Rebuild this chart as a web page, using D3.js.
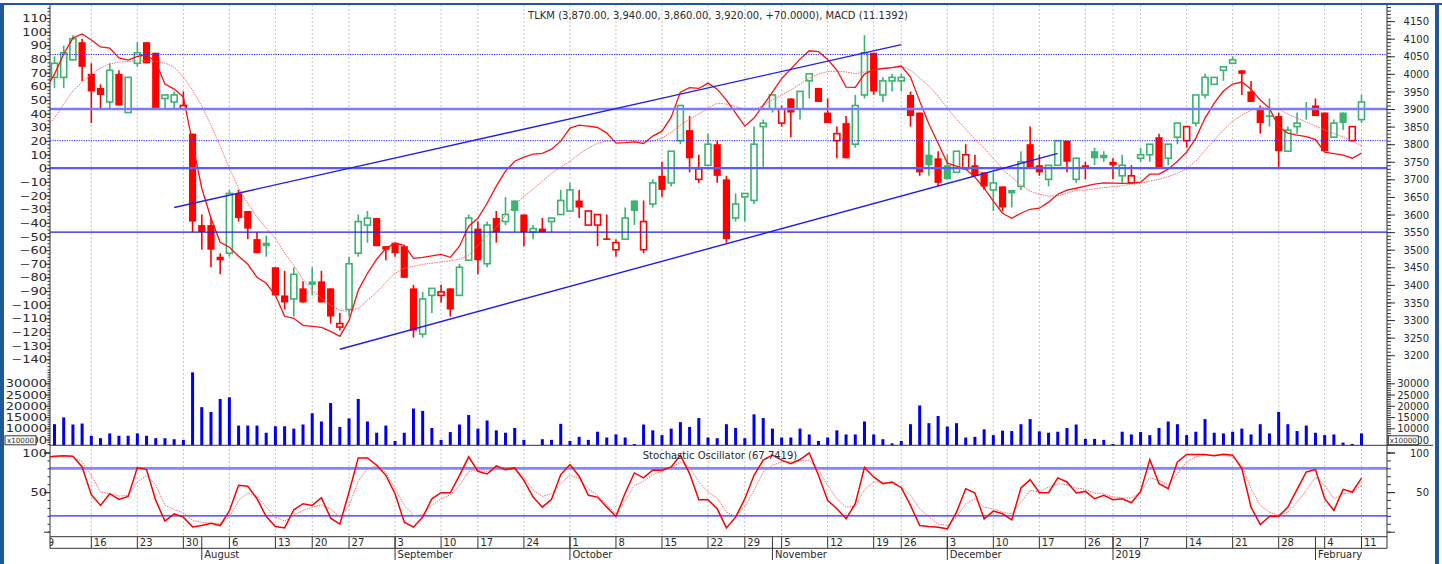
<!DOCTYPE html>
<html><head><meta charset="utf-8">
<script src="https://cdn.jsdelivr.net/npm/d3@7"></script>
<style>
html,body{margin:0;padding:0;background:#fff;}
svg{display:block;}
</style></head><body>
<svg id="c" width="1442" height="564"></svg>
<script>
// ---------- DATA (index 0 = Jul 9, partly hidden left of the axis) ----------
const openP = [3950,
3990,3990,4040,4090,4000,3960,3920,4000,3890,4030,4090,4060,3930,3920,3900,3830,3570,3570,3480,3490,
3660,3610,3530,3520,3450,3370,3360,3390,3410,3410,3390,3280,3330,3490,3570,3590,3510,3520,3510,3390,
3260,3370,3370,3390,3370,3470,3560,3460,3590,3580,3640,3600,3550,3560,3580,3600,3610,3640,3570,3570,
3530,3500,3530,3640,3500,3630,3710,3690,3810,3840,3700,3740,3800,3700,3590,3650,3640,3850,3900,3860,
3930,3900,3980,3960,3890,3810,3860,3800,3940,4060,3940,3980,3980,3940,3890,3770,3760,3740,3720,3730,
3740,3720,3670,3680,3670,3680,3800,3740,3700,3740,3810,3700,3740,3780,3770,3750,3710,3690,3760,3770,
3820,3760,3820,3810,3860,3940,3970,4010,4030,4010,3950,3900,3880,3880,3780,3850,3900,3910,3890,3820,
3890,3810,3870];
const highP = [4000,
4050,4080,4110,4100,4030,3970,4030,4010,3990,4090,4090,4060,3940,3950,3950,3830,3600,3590,3490,3670,
3670,3610,3550,3540,3450,3440,3450,3410,3450,3440,3390,3320,3480,3600,3610,3590,3510,3520,3510,3400,
3380,3390,3400,3390,3460,3600,3580,3580,3610,3650,3640,3600,3570,3590,3590,3670,3690,3670,3610,3600,
3600,3530,3620,3640,3640,3700,3750,3780,3910,3880,3770,3830,3810,3710,3660,3660,3850,3870,3940,3910,
3930,3950,4000,3960,3930,3850,3880,3940,4110,4060,3990,4000,4000,3950,3890,3810,3780,3770,3780,3800,
3770,3720,3720,3680,3670,3780,3850,3770,3740,3810,3810,3760,3750,3790,3780,3760,3770,3740,3790,3800,
3830,3800,3860,3850,3940,4000,3990,4020,4050,4010,3980,3910,3930,3890,3850,3890,3920,3930,3890,3870,
3890,3850,3940];
const lowP = [3940,
3960,3960,4040,3980,3860,3900,3900,3910,3890,4020,4030,3900,3900,3900,3900,3550,3500,3450,3430,3480,
3580,3530,3490,3480,3370,3330,3310,3350,3370,3350,3290,3270,3310,3480,3520,3510,3470,3480,3420,3250,
3250,3320,3350,3310,3370,3470,3430,3450,3520,3570,3550,3510,3530,3550,3550,3600,3610,3590,3570,3510,
3530,3480,3530,3570,3490,3620,3650,3680,3800,3720,3690,3740,3690,3520,3580,3580,3630,3730,3890,3850,
3820,3870,3930,3920,3860,3760,3760,3790,3930,3940,3920,3950,3950,3850,3710,3710,3680,3700,3720,3730,
3710,3670,3610,3610,3620,3670,3730,3710,3680,3740,3720,3690,3700,3740,3750,3700,3690,3690,3750,3750,
3730,3740,3800,3790,3850,3930,3970,3980,4030,3940,3920,3830,3850,3730,3780,3830,3870,3880,3780,3820,
3840,3810,3860];
const closeP = [3990,
4030,4060,4100,4020,3950,3940,4010,3910,3990,4060,4030,3900,3940,3940,3910,3580,3550,3500,3470,3660,
3590,3560,3490,3510,3370,3350,3430,3350,3400,3350,3310,3290,3460,3580,3590,3510,3500,3490,3420,3270,
3360,3390,3380,3330,3450,3590,3470,3570,3550,3600,3610,3550,3560,3550,3590,3640,3670,3620,3610,3600,
3530,3520,3590,3610,3580,3690,3670,3780,3910,3760,3730,3800,3710,3530,3630,3660,3800,3860,3940,3900,
3890,3950,4000,3920,3860,3830,3760,3910,4060,3950,3980,3990,3990,3880,3720,3740,3690,3700,3780,3770,
3710,3680,3690,3620,3660,3750,3730,3720,3740,3810,3750,3760,3730,3760,3760,3740,3740,3710,3770,3800,
3730,3800,3860,3850,3940,3990,3990,4020,4040,4000,3920,3860,3880,3780,3840,3860,3900,3880,3780,3860,
3860,3850,3920];
const volume = [10000,
11820,14850,11680,12120,6680,5600,7730,6680,6680,7730,6680,5600,5600,5150,4850,34850,19400,17270,23030,23790,
11210,11210,11210,8030,10910,10910,9850,11680,16670,13030,21210,10610,14390,23030,13030,8030,11210,4390,8030,18790,
17730,10150,4850,8330,11680,15910,9850,13480,9090,8030,10150,4850,2580,5150,4850,11980,4390,6210,4850,8480,
5910,7270,5910,3030,11680,9090,6970,9850,12730,10610,14550,5910,5600,11820,10150,5600,16210,14545,9850,5910,
5910,9850,7270,4390,5910,9090,7270,7270,13030,7270,5150,3330,4390,11820,20150,12270,15450,10760,12270,5910,
6210,9545,6970,8940,8790,11820,14090,8640,8030,8480,10150,11680,5300,5300,4850,3030,8480,7270,8330,6970,
10150,13030,11820,6970,8480,14090,8030,7730,8480,9850,7270,11820,7730,17270,11820,8790,11210,8030,6970,7270,
3640,3030,7730];
const macd = [57.5,
68.9,83.6,95.3,98.3,93.9,88.8,88.0,80.7,79.2,81.8,83.2,77.7,61.6,57.9,52.1,18.3,-14.7,-36.7,-54.3,-57.9,
-64.5,-70.4,-79.9,-84.3,-93.1,-108.5,-110,-115.1,-115.9,-116.6,-119.5,-123.2,-111.5,-89.5,-77,-66.7,-58.7,-55,-56.5,-66,
-65.3,-64.2,-63.1,-65.3,-57.2,-42.5,-36.7,-25.7,-13.2,-2.2,5.1,8.1,10.3,10.8,13.9,19.8,29.3,31.5,30.8,29.8,
25.7,18.3,18.7,19.3,18.1,23.5,27.1,37.4,55.7,59,58.4,62.3,57.9,49.9,40.3,30.8,36.7,46.2,55.7,65.6,
72.6,79.9,86,85.3,79.6,71.9,59.4,59.2,68.9,72.2,73,73.7,74.8,66.7,49.1,32.3,18.3,3.7,1.5,-0.7,
-6.6,-14.7,-24.2,-33,-36.7,-33,-30.1,-29.3,-24.9,-19.1,-16.1,-14.7,-13.2,-11.7,-10.8,-11,-11.2,-11,-10.3,-4.4,
-4.4,-0.7,5.1,11.7,22,36.7,47.7,56.5,61.6,63.1,57.9,49.9,44,30.1,25.7,24.2,23.1,20.9,11.7,10.6,
9.5,7.3,11.1392];
const macdSignal = [29,
36.7,46.9,56.5,63.1,68.9,73.3,76.3,77.7,78.1,78.5,78.5,78.1,77,74.1,66.7,57.2,45.5,31.5,16.1,0,
-14.7,-25.7,-35.9,-44,-51.3,-62.3,-71.2,-81.4,-89.5,-95.3,-100.5,-104.1,-104.9,-102.7,-96.8,-90.9,-83.6,-77,-73.3,-71.9,
-70.4,-69.7,-68.6,-67.8,-66.7,-63.8,-56.5,-49.9,-43.3,-34.5,-27.1,-20.5,-15.4,-9.5,-3.7,0.7,5.1,10.3,14.7,18.3,
19.8,20.2,20.2,20,19.4,19.8,22,26.4,31.5,35.9,39.6,44,47.7,46.9,45.1,43.3,42.5,46.2,49.9,53.5,
57.2,61.6,66,68.9,70.8,71.1,70.4,69.3,70.4,71.9,73,73.7,74.3,71.9,66,60.1,52.8,44,35.9,28.6,
21.3,14.7,7.3,-0.7,-6.6,-12.5,-16.9,-19.1,-20.5,-20.2,-18.3,-16.1,-16.1,-15,-14.3,-13.6,-12.8,-11.7,-11,-9.5,
-8.1,-6.2,-3.7,0,5.1,13.2,20.5,27.9,34.5,38.9,42.5,44.4,44,43.3,39.6,36.7,33.7,30.8,27.9,25.5,
22.7,19.8,16.5];
const stochK = [93.7,
95.3,95.8,95.3,81.8,46.7,33.2,48.0,40.8,44.6,81.0,78.4,39.5,13.3,22.6,18.4,6.1,7.8,10.7,7.8,26.4,
58.5,57.3,41.6,19.2,6.5,4.8,27.7,35.3,33.2,42.9,17.1,9.5,50.1,93.2,93.2,83.9,71.2,48,12.0,5.7,
18.4,41.6,49.2,49.2,71.2,94.5,76.3,72.9,83.1,78.4,80.5,64.9,43.7,31.0,40.8,72.1,84.8,70.0,45.9,43.7,
31.0,19.2,48.8,74.2,67.9,78.0,77.6,81.8,96.6,73.4,40.4,40.4,28.9,4.8,18.4,41.6,71.2,90.3,96.6,90.3,
86.0,91.1,99.6,71.2,39.5,28.9,16.2,35.3,81.0,69.1,60.7,62.8,55.6,33.2,7.8,6.5,5.7,3.6,24.7,54.3,
48.8,16.2,26.0,22.6,15.0,55.2,65.7,49.2,49.2,67.9,62.8,48.8,50.9,41.6,45.9,40.4,41.6,36.5,50.9,91.1,
60.7,54.3,88.2,97.5,97.5,97.5,95.8,97.9,96.6,79.7,31.0,9.0,19.2,19.6,31.0,53.5,75.5,78.4,41.6,26.8,
53.5,50.1,67.7419];
const stochD = [90.7,
94.5,94.5,94.5,88.2,71.2,50.1,48.0,45.0,45.9,62.8,71.2,58.5,33.2,28.1,23.9,14.1,12.0,10.7,10.7,18.4,
39.5,48.8,44.6,31.0,18.4,13.3,21.3,26.8,31.0,34.0,28.9,18.4,33.2,63.6,79.7,83.1,74.6,54.3,33.2,20.5,
21.3,33.2,41.6,46.7,58.5,76.3,77.6,76.3,78.4,78.4,78.8,69.1,52.2,44.6,48.0,60.7,71.2,67.0,54.3,45.9,
34.0,22.6,39.5,58.5,63.6,72.1,76.3,80.5,88.2,81.8,62.8,50.1,42.5,24.7,19.6,32.3,52.2,75.5,83.9,88.2,
88.2,89.4,90.3,77.6,58.5,41.6,31.0,31.9,53.0,62.8,62.8,60.7,56.4,45.9,28.9,18.4,9.9,7.8,18.4,35.3,
41.6,31.0,28.9,24.7,22.6,37.4,52.2,50.1,56.4,60.7,59.4,55.2,53.5,48.8,48.0,43.7,42.9,42.5,50.1,67.9,
64.9,59.4,73.4,88.2,94.5,96.6,96.6,96.6,94.5,83.9,54.3,33.2,24.7,20.5,24.7,37.4,52.2,69.1,58.5,41.6,
48.0,49.2,58.5];

const dayTickIdx = [0,5,10,15,20,25,29,33,38,43,47,52,57,62,67,72,76,80,85,90,93,98,103,108,113,116,119,124,129,134,139,143];
const dayTickLbl = ["9","16","23","30","6","13","20","27","3","10","17","24","1","8","15","22","29","5","12","19","26","3","10","17","26","2","7","14","21","28","4","11"];
const monthIdx = [17,38,57,79,98,116,138];
const monthLbl = ["August","September","October","November","December","2019","February"];

const macdTicks = d3.range(-140, 111, 10);
const priceTicks = d3.range(3200, 4151, 50);
const volTicks = [5000,10000,15000,20000,25000,30000];
const stochTicks = [50,100];

const dottedLevels = [4055, 3810];
const solidLevels = [3900];
const thinLevels = [3550];
const trendStart = [[14,3620],[32,3217]];
const trendEnd = [[93,4083],[110,3774]];

const titleText = "TLKM (3,870.00, 3,940.00, 3,860.00, 3,920.00, +70.0000), MACD (11.1392)";
const stochText = "Stochastic Oscillator (67.7419)";

// ---------- LAYOUT ----------
const svg = d3.select("#c");
const L = 50, R = 1387, T = 5, MB = 370, VB = 445.3, SB = 536.7, DB = 548.3, MoB = 560;
const FONT = "DejaVu Sans, sans-serif";
const TXT = "#2a2a2a";
const GREEN = "#3cb371", RED = "#ff0000";

const x = d3.scaleLinear().domain([0, 143]).range([45.3, 1361.5]);
const yP = d3.scaleLinear().domain([3200, 4150]).range([355.2, 21.1]);
const yM = d3.scaleLinear().domain([-140, 110]).range([359.3, 18.0]);
const yV = d3.scaleLinear().domain([10000, 30000]).range([428.3, 383.3]);
const yS = d3.scaleLinear().domain([0, 100]).range([531.7, 452.5]);

svg.append("rect").attr("width",1442).attr("height",564).attr("fill","#fff");

const defs = svg.append("defs");
function clip(id, y0, y1){
  defs.append("clipPath").attr("id", id).append("rect")
    .attr("x", L).attr("y", y0).attr("width", R - L).attr("height", y1 - y0);
}
clip("cm", T, MB); clip("cv", MB, VB); clip("cs", VB, SB); clip("call", T, SB); clip("cd", SB, MoB + 5);

// gridlines
const grid = svg.append("g").attr("clip-path", "url(#call)");
grid.selectAll("line").data(dayTickIdx).join("line")
  .attr("x1", d => x(d)).attr("x2", d => x(d)).attr("y1", T).attr("y2", SB)
  .attr("stroke", "#c4c4c4").attr("stroke-width", 1).attr("stroke-dasharray", "2,2");

// ---------- MAIN PANEL ----------
const main = svg.append("g").attr("clip-path", "url(#cm)");
const idx = d3.range(closeP.length);

const candles = main.append("g");
idx.forEach(i => {
  const o = openP[i], c = closeP[i], h = highP[i], l = lowP[i];
  const prev = i > 0 ? closeP[i - 1] : o;
  const col = c >= prev ? GREEN : RED;
  const cx = x(i);
  candles.append("line").attr("x1", cx).attr("x2", cx).attr("y1", yP(h)).attr("y2", yP(l))
    .attr("stroke", col).attr("stroke-width", 1.6);
  const top = yP(Math.max(o, c)), bot = yP(Math.min(o, c));
  if (c > o) {
    candles.append("rect").attr("x", cx - 3).attr("y", top).attr("width", 6)
      .attr("height", Math.max(bot - top, 1)).attr("fill", "#fff").attr("stroke", col).attr("stroke-width", 1.6);
  } else {
    candles.append("rect").attr("x", cx - 3.6).attr("y", top - (bot - top < 1.6 ? 0.8 : 0)).attr("width", 7.2)
      .attr("height", Math.max(bot - top, 1.6)).attr("fill", col);
  }
});

// MACD lines
main.append("path").datum(idx)
  .attr("d", d3.line().x(i => x(i)).y(i => yM(macdSignal[i])))
  .attr("fill", "none").attr("stroke", "#ff6a6a").attr("stroke-width", 1).attr("stroke-dasharray", "1.5,1");
main.append("path").datum(idx)
  .attr("d", d3.line().x(i => x(i)).y(i => yM(macd[i])))
  .attr("fill", "none").attr("stroke", "#ff1010").attr("stroke-width", 1.3);

// level lines
main.selectAll(".dl").data(dottedLevels).join("line").attr("class","dl")
  .attr("x1", L).attr("x2", R).attr("y1", d => yP(d)).attr("y2", d => yP(d))
  .attr("stroke", "#2a2aff").attr("stroke-width", 1).attr("stroke-dasharray", "1.2,1.2");
main.selectAll(".sl").data(solidLevels).join("line").attr("class","sl")
  .attr("x1", L).attr("x2", R).attr("y1", d => yP(d)).attr("y2", d => yP(d))
  .attr("stroke", "#7b7bff").attr("stroke-width", 2.6);
main.append("line").attr("x1", L).attr("x2", R).attr("y1", yM(0)).attr("y2", yM(0))
  .attr("stroke", "#5a5aff").attr("stroke-width", 2.2);
main.selectAll(".tl").data(thinLevels).join("line").attr("class","tl")
  .attr("x1", L).attr("x2", R).attr("y1", d => yP(d)).attr("y2", d => yP(d))
  .attr("stroke", "#1e1ee8").attr("stroke-width", 1.4);

// trend lines
main.selectAll(".tr").data(d3.range(trendStart.length)).join("line").attr("class","tr")
  .attr("x1", k => x(trendStart[k][0])).attr("y1", k => yP(trendStart[k][1]))
  .attr("x2", k => x(trendEnd[k][0])).attr("y2", k => yP(trendEnd[k][1]))
  .attr("stroke", "#2020ee").attr("stroke-width", 1.4);

// title
svg.append("text").attr("x", 718).attr("y", 18.5).attr("text-anchor", "middle")
  .attr("font-family", FONT).attr("font-size", 10).attr("fill", TXT).text(titleText);

// ---------- VOLUME ----------
const vol = svg.append("g").attr("clip-path", "url(#cv)");
vol.selectAll("rect").data(idx).join("rect")
  .attr("x", i => x(i) - 1.5).attr("width", 3)
  .attr("y", i => Math.min(yV(volume[i]), VB))
  .attr("height", i => Math.max(VB - yV(volume[i]), 0))
  .attr("fill", "#0000f0");

// ---------- STOCHASTIC ----------
const st = svg.append("g").attr("clip-path", "url(#cs)");
st.append("line").attr("x1", L).attr("x2", R).attr("y1", yS(80)).attr("y2", yS(80))
  .attr("stroke", "#8585ff").attr("stroke-width", 2.6);
st.append("line").attr("x1", L).attr("x2", R).attr("y1", yS(20)).attr("y2", yS(20))
  .attr("stroke", "#2a2aff").attr("stroke-width", 1.4);
st.append("path").datum(idx)
  .attr("d", d3.line().x(i => x(i)).y(i => yS(stochD[i])))
  .attr("fill", "none").attr("stroke", "#ff7070").attr("stroke-width", 1).attr("stroke-dasharray", "1.5,1");
st.append("path").datum(idx)
  .attr("d", d3.line().x(i => x(i)).y(i => yS(stochK[i])))
  .attr("fill", "none").attr("stroke", "#ff0000").attr("stroke-width", 1.5);
svg.append("text").attr("x", 720).attr("y", 459).attr("text-anchor", "middle")
  .attr("font-family", FONT).attr("font-size", 10).attr("fill", TXT).text(stochText);

// ---------- AXES ----------
function ticks(scale, vals, size, side, x0){
  const ax = side === "left" ? d3.axisLeft(scale) : d3.axisRight(scale);
  const g = svg.append("g").attr("transform", `translate(${x0},0)`)
    .call(ax.tickValues(vals).tickSize(size).tickFormat(""));
  g.select(".domain").remove();
  g.selectAll(".tick line").attr("stroke", "#333");
  g.selectAll(".tick text").remove();
}
function labelled(scale, vals, size, side, x0, fmt){
  const ax = side === "left" ? d3.axisLeft(scale) : d3.axisRight(scale);
  const g = svg.append("g").attr("transform", `translate(${x0},0)`)
    .call(ax.tickValues(vals).tickSize(size).tickFormat(fmt));
  g.select(".domain").remove();
  g.attr("font-family", FONT).attr("font-size", 10);
  g.selectAll(".tick line").attr("stroke", "#333");
  const t = g.selectAll(".tick text").attr("fill", TXT).attr("text-anchor", "end").attr("dy", "0.36em");
  if (side === "left") t.attr("x", 0).attr("transform", "translate(-3,0) scale(1.3,1)");
  else t.attr("x", 42);
}
const inRange = (scale, y0, y1) => v => { const yy = scale(v); return yy >= y0 && yy <= y1; };
const fmtD = d3.format("d");

// main left (MACD)
ticks(yM, d3.range(-150, 125, 2.5).filter(inRange(yM, T, MB)), 2.5, "left", L);
labelled(yM, macdTicks, 5, "left", L, fmtD);
// main right (price)
ticks(yP, d3.range(3160, 4200, 10).filter(inRange(yP, T, MB)), 4, "right", R);
labelled(yP, priceTicks, 8, "right", R, fmtD);
// volume
ticks(yV, d3.range(2000, 37000, 1000).filter(inRange(yV, MB, VB)), 2.5, "left", L);
ticks(yV, d3.range(2000, 37000, 1000).filter(inRange(yV, MB, VB)), 4, "right", R);
labelled(yV, volTicks, 5, "left", L, fmtD);
labelled(yV, volTicks, 8, "right", R, fmtD);
// stochastic
ticks(yS, d3.range(0, 101, 10), 2.5, "left", L);
ticks(yS, d3.range(0, 101, 10), 4, "right", R);
ticks(yS, [0, 50, 100], 6, "left", L);
ticks(yS, [0, 50, 100], 8, "right", R);
labelled(yS, stochTicks, 6, "left", L, fmtD);
labelled(yS, stochTicks, 8, "right", R, fmtD);

// x10000 boxes
[[5, 31], [1388.3, 30]].forEach(([bx, bw]) => {
  svg.append("rect").attr("x", bx).attr("y", 435.8).attr("width", bw).attr("height", 9)
    .attr("fill", "#fff").attr("stroke", "#333").attr("stroke-width", 1);
  svg.append("text").attr("x", bx + bw / 2).attr("y", 443).attr("text-anchor", "middle")
    .attr("font-family", FONT).attr("font-size", 7.2).attr("fill", TXT).text("x10000");
});

// frame lines
svg.append("line").attr("x1", L).attr("x2", L).attr("y1", T).attr("y2", DB).attr("stroke", "#333");
svg.append("line").attr("x1", R).attr("x2", R).attr("y1", T).attr("y2", DB).attr("stroke", "#333");
svg.append("line").attr("x1", L).attr("x2", 1433).attr("y1", VB).attr("y2", VB).attr("stroke", "#333");
svg.append("line").attr("x1", L).attr("x2", R).attr("y1", SB).attr("y2", SB).attr("stroke", "#333");
svg.append("line").attr("x1", L).attr("x2", R).attr("y1", DB).attr("y2", DB).attr("stroke", "#333");

// date axis
const dax = svg.append("g").attr("clip-path", "url(#cd)").attr("font-family", FONT).attr("font-size", 10).attr("fill", TXT);
dayTickIdx.forEach((d, k) => {
  dax.append("line").attr("x1", x(d)).attr("x2", x(d)).attr("y1", SB).attr("y2", DB).attr("stroke", "#333");
  dax.append("text").attr("x", x(d) + 2.5).attr("y", 546).text(dayTickLbl[k]);
});
monthIdx.forEach((d, k) => {
  dax.append("line").attr("x1", x(d)).attr("x2", x(d)).attr("y1", SB).attr("y2", MoB).attr("stroke", "#333");
  dax.append("text").attr("x", x(d) + 2.5).attr("y", 557.8).text(monthLbl[k]);
});

// outer border
const BC = "#1f5a96";
svg.append("line").attr("x1", 0).attr("x2", 1442).attr("y1", 4).attr("y2", 4).attr("stroke", BC).attr("stroke-width", 2.2);
svg.append("line").attr("x1", 2).attr("x2", 2).attr("y1", 3).attr("y2", 564).attr("stroke", BC).attr("stroke-width", 4);
svg.append("line").attr("x1", 1437).attr("x2", 1437).attr("y1", 3).attr("y2", 564).attr("stroke", BC).attr("stroke-width", 4);
</script>
</body></html>
